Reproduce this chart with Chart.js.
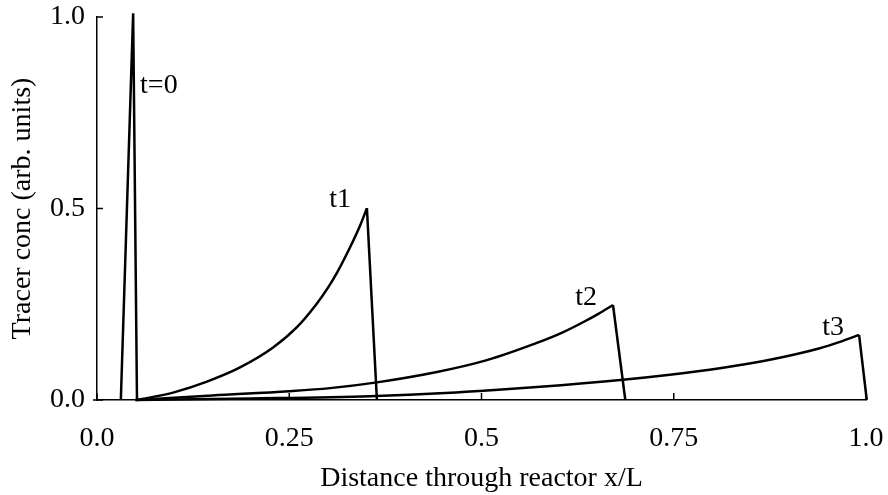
<!DOCTYPE html>
<html>
<head>
<meta charset="utf-8">
<title>Tracer concentration</title>
<script src="https://cdn.jsdelivr.net/npm/chart.js@4/dist/chart.umd.min.js"></script>
<style>
  html, body { margin: 0; padding: 0; background: #fff; }
  canvas { display: block; }
</style>
</head>
<body>
<canvas id="tracerChart" width="888" height="495"></canvas>
<script>
// values (x = x/L, y = arb. units)
const t0X = [0.031, 0.047, 0.052];
const t0Y = [0, 1.01, 0];

const t1X = [0.052, 0.10, 0.143, 0.186, 0.229, 0.260, 0.286, 0.300, 0.312, 0.323, 0.333, 0.342, 0.351, 0.364];
const t1Y = [0, 0.020, 0.048, 0.085, 0.137, 0.190, 0.252, 0.292, 0.332, 0.374, 0.415, 0.455, 0.501, 0];

const t2X = [0.05, 0.15, 0.25, 0.303, 0.364, 0.442, 0.507, 0.572, 0.605, 0.632, 0.652, 0.671, 0.687];
const t2Y = [0, 0.012, 0.023, 0.031, 0.046, 0.073, 0.104, 0.149, 0.176, 0.203, 0.225, 0.248, 0];

const t3X = [0.05, 0.2, 0.355, 0.46, 0.507, 0.572, 0.684, 0.745, 0.810, 0.875, 0.940, 0.965, 0.991, 1.001];
const t3Y = [0, 0.004, 0.010, 0.019, 0.025, 0.034, 0.053, 0.066, 0.083, 0.105, 0.135, 0.151, 0.170, 0];

const curveNames = ['t=0', 't1', 't2', 't3'];
const xTickLabels = ['0.0', '0.25', '0.5', '0.75', '1.0'];
const yTickLabels = ['0.0', '0.5', '1.0'];

const toPoints = (xs, ys) => xs.map((x, i) => ({ x: x, y: ys[i] }));

// where each curve name sits (left edge, baseline) in data units
const nameAnchors = [
  { x: 0.056, y: 0.802 },
  { x: 0.302, y: 0.505 },
  { x: 0.622, y: 0.248 },
  { x: 0.943, y: 0.170 }
];

const serif = "'Liberation Serif', 'Times New Roman', serif";

const curveLabels = {
  id: 'curveLabels',
  afterDatasetsDraw(chart) {
    const ctx = chart.ctx;
    const xs = chart.scales.x, ys = chart.scales.y;
    ctx.save();
    ctx.fillStyle = '#000';
    ctx.font = '28px ' + serif;
    ctx.textAlign = 'left';
    ctx.textBaseline = 'alphabetic';
    curveNames.forEach((name, i) => {
      ctx.fillText(name, xs.getPixelForValue(nameAnchors[i].x), ys.getPixelForValue(nameAnchors[i].y));
    });
    ctx.restore();
  }
};

// tick marks pointing into the plot
const innerTicks = {
  id: 'innerTicks',
  afterDraw(chart) {
    const ctx = chart.ctx;
    const xs = chart.scales.x, ys = chart.scales.y;
    const area = chart.chartArea;
    ctx.save();
    ctx.strokeStyle = '#000';
    ctx.lineWidth = 1.5;
    ctx.beginPath();
    xs.ticks.forEach(t => {
      const px = xs.getPixelForValue(t.value);
      ctx.moveTo(px, area.bottom);
      ctx.lineTo(px, area.bottom - 7);
    });
    ys.ticks.forEach(t => {
      const py = ys.getPixelForValue(t.value);
      ctx.moveTo(area.left, py);
      ctx.lineTo(area.left + 6, py);
    });
    ctx.moveTo(area.left - 4, area.bottom);
    ctx.lineTo(area.left, area.bottom);
    ctx.stroke();
    ctx.restore();
  }
};

const lineStyle = {
  borderColor: '#000',
  borderWidth: 2.5,
  pointRadius: 0,
  showLine: true,
  fill: false,
  clip: false
};

// each curve: smooth rise up to the peak, then a straight drop
function curveSets(name, xs, ys) {
  const pts = toPoints(xs, ys);
  const n = pts.length;
  return [
    Object.assign({ label: name, data: pts.slice(0, n - 1), cubicInterpolationMode: 'monotone', tension: 0.4 }, lineStyle),
    Object.assign({ label: name + ' drop', data: pts.slice(n - 2), tension: 0 }, lineStyle)
  ];
}

const ctx = document.getElementById('tracerChart').getContext('2d');

new Chart(ctx, {
  type: 'scatter',
  data: {
    datasets: [
      Object.assign({ label: curveNames[0], data: toPoints(t0X, t0Y), tension: 0 }, lineStyle),
      ...curveSets(curveNames[1], t1X, t1Y),
      ...curveSets(curveNames[2], t2X, t2Y),
      ...curveSets(curveNames[3], t3X, t3Y)
    ]
  },
  options: {
    responsive: false,
    animation: false,
    layout: { padding: { top: 17, right: 22, left: 0, bottom: 0 } },
    plugins: {
      legend: { display: false },
      tooltip: { enabled: false }
    },
    scales: {
      x: {
        type: 'linear',
        min: 0,
        max: 1,
        grid: { display: false, drawTicks: false },
        border: { display: true, color: '#000', width: 1.5 },
        ticks: {
          stepSize: 0.25,
          padding: 22,
          color: '#000',
          font: { family: serif, size: 28 },
          maxRotation: 0,
          callback: (v) => xTickLabels[Math.round(v / 0.25)]
        },
        title: {
          display: true,
          text: 'Distance through reactor x/L',
          color: '#000',
          font: { family: serif, size: 28 },
          padding: { top: 3, bottom: 0 }
        },
        afterFit: (scale) => {
          scale.height = 95;
          scale.paddingLeft = 0;
          scale.paddingRight = 0;
        }
      },
      y: {
        type: 'linear',
        min: 0,
        max: 1,
        grid: { display: false, drawTicks: false },
        border: { display: true, color: '#000', width: 1.5 },
        ticks: {
          stepSize: 0.5,
          padding: 12,
          color: '#000',
          font: { family: serif, size: 28 },
          callback: (v) => yTickLabels[Math.round(v / 0.5)]
        },
        title: {
          display: true,
          text: 'Tracer conc (arb. units)',
          color: '#000',
          font: { family: serif, size: 28 },
          padding: { top: 6, bottom: 0 }
        },
        afterFit: (scale) => {
          scale.width = 97;
          scale.paddingTop = 0;
          scale.paddingBottom = 0;
        }
      }
    }
  },
  plugins: [curveLabels, innerTicks]
});
</script>
</body>
</html>
